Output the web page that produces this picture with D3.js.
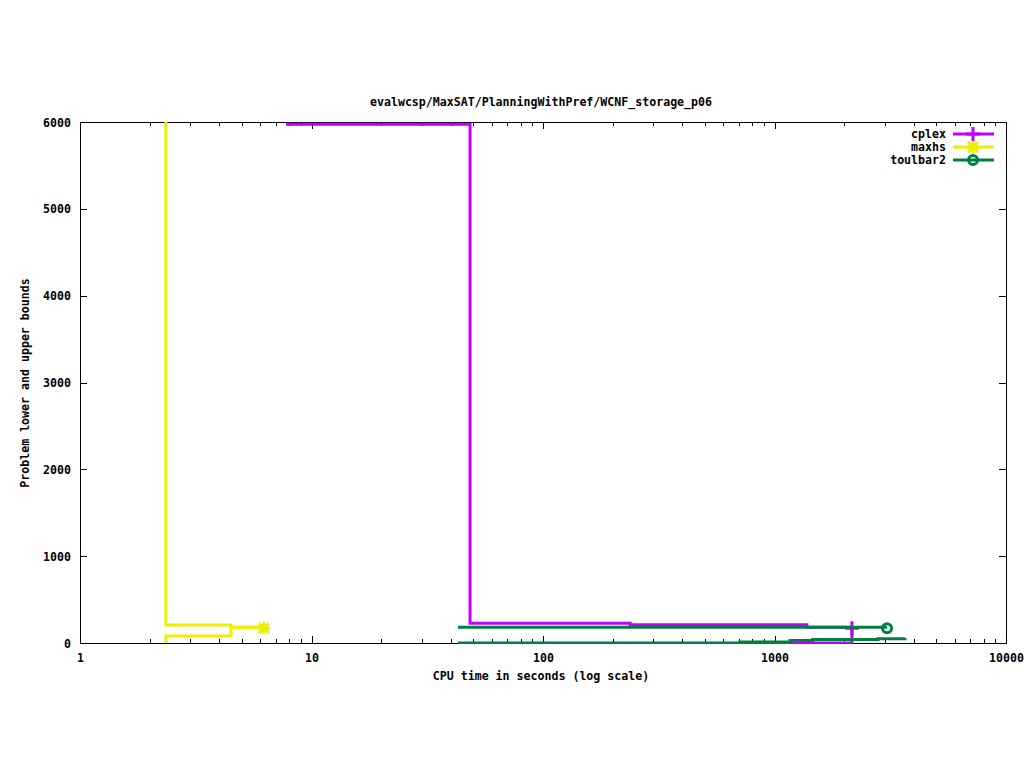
<!DOCTYPE html>
<html>
<head>
<meta charset="utf-8">
<script src="https://cdn.jsdelivr.net/npm/d3@7"></script>
<style>
  html, body { margin: 0; padding: 0; background: #fff; }
  svg text { font-family: "DejaVu Sans Mono", "Liberation Mono", monospace; font-weight: bold; font-size: 11.6px; fill: #000; }
</style>
</head>
<body>
<svg id="chart" width="1024" height="768"></svg>
<script>
// ---- data ----
const title = "evalwcsp/MaxSAT/PlanningWithPref/WCNF_storage_p06";
const xLabel = "CPU time in seconds (log scale)";
const yLabel = "Problem lower and upper bounds";
const solvers = ["cplex", "maxhs", "toulbar2"];
const colors = ["#c000ff", "#eeee00", "#008040"];
const markerShapes = ["plus", "star", "circle"];

const xTickValues = [1, 10, 100, 1000, 10000];
const xTickLabels = ["1", "10", "100", "1000", "10000"];
const yTickValues = [0, 1000, 2000, 3000, 4000, 5000, 6000];

const cplexUpperTime = [7.76, 48.4, 238, 1380, 2160];
const cplexUpperVal  = [5975, 227, 211, 181, 181];
const cplexLowerTime = [700, 2160];
const cplexLowerVal  = [0, 181];

const maxhsUpperTime = [2.35, 2.35, 4.49, 6.23];
const maxhsUpperVal  = [6000, 207, 181, 181];
const maxhsLowerTime = [2.35, 2.35, 4.49, 6.23];
const maxhsLowerVal  = [0, 81, 181, 181];

const toulbarUpperTime = [42.9, 3063];
const toulbarUpperVal  = [181, 181];
const toulbarLowerTime = [42.9, 709, 1167, 1462, 2799, 3661];
const toulbarLowerVal  = [0, 12, 28, 39, 50, 58];

const finalTime = [2160, 6.23, 3063];
const finalVal  = [181, 181, 181];

// ---- layout ----
const svg = d3.select("#chart");
const L = 80, R = 1006, T = 122, B = 643;
const x = d3.scaleLog().domain([1, 10000]).range([L, R]);
const y = d3.scaleLinear().domain([0, 6000]).range([B, T]);

const zip = (t, v) => t.map((d, i) => [d, v[i]]);
const series = [
  { up: zip(cplexUpperTime, cplexUpperVal), lo: zip(cplexLowerTime, cplexLowerVal) },
  { up: zip(maxhsUpperTime, maxhsUpperVal), lo: zip(maxhsLowerTime, maxhsLowerVal) },
  { up: zip(toulbarUpperTime, toulbarUpperVal), lo: zip(toulbarLowerTime, toulbarLowerVal) }
];

// minor ticks for log axis
const minorX = [];
for (let e = 0; e < 4; e++) for (let m = 2; m <= 9; m++) minorX.push(m * Math.pow(10, e));

// axes (inward ticks, mirrored)
const gx = svg.append("g").attr("transform", `translate(0,${B})`)
  .call(d3.axisBottom(x).tickValues(xTickValues).tickSizeInner(-7).tickSizeOuter(0)
    .tickFormat((d, i) => xTickLabels[i]));
const gxMinor = svg.append("g").attr("transform", `translate(0,${B})`)
  .call(d3.axisBottom(x).tickValues(minorX).tickSizeInner(-4).tickSizeOuter(0).tickFormat(""));
const gxTop = svg.append("g").attr("transform", `translate(0,${T})`)
  .call(d3.axisTop(x).tickValues(xTickValues).tickSizeInner(-7).tickSizeOuter(0).tickFormat(""));
const gxTopMinor = svg.append("g").attr("transform", `translate(0,${T})`)
  .call(d3.axisTop(x).tickValues(minorX).tickSizeInner(-4).tickSizeOuter(0).tickFormat(""));
const gy = svg.append("g").attr("transform", `translate(${L},0)`)
  .call(d3.axisLeft(y).tickValues(yTickValues).tickSizeInner(-7).tickSizeOuter(0).tickFormat(d3.format("d")));
const gyR = svg.append("g").attr("transform", `translate(${R},0)`)
  .call(d3.axisRight(y).tickValues(yTickValues).tickSizeInner(-7).tickSizeOuter(0).tickFormat(""));

svg.selectAll(".domain").remove();
svg.selectAll(".tick line").attr("stroke", "#000").attr("stroke-width", 1).attr("shape-rendering", "crispEdges");
svg.selectAll(".tick text").attr("font-family", null).attr("font-size", null);
gx.selectAll(".tick text").attr("y", 11).attr("dy", "0.71em");
gy.selectAll(".tick text").attr("x", -9).attr("dy", "0.35em");

// border
svg.append("rect").attr("x", L).attr("y", T).attr("width", R - L).attr("height", B - T)
  .attr("fill", "none").attr("stroke", "#000").attr("stroke-width", 1).attr("shape-rendering", "crispEdges");

// titles
svg.append("text").attr("x", 541).attr("y", 102).attr("dy", "0.35em").attr("text-anchor", "middle").text(title);
svg.append("text").attr("x", 541).attr("y", 676).attr("dy", "0.35em").attr("text-anchor", "middle").text(xLabel);
svg.append("text").attr("transform", "translate(25,383) rotate(-90)").attr("dy", "0.35em")
  .attr("text-anchor", "middle").text(yLabel);

// clip
svg.append("clipPath").attr("id", "clip").append("rect")
  .attr("x", L).attr("y", T - 1).attr("width", R - L).attr("height", B - T + 2);

const line = d3.line().x(d => x(d[0])).y(d => y(d[1])).curveStepAfter;
const stepLine = d3.line().x(d => x(d[0])).y(d => y(d[1])).curve(d3.curveStepAfter);

function marker(g, shape, cx, cy, color) {
  if (shape === "plus") {
    g.append("path").attr("d", `M${cx - 7},${cy}H${cx + 7}M${cx},${cy - 7}V${cy + 7}`)
      .attr("stroke", color).attr("stroke-width", 3).attr("fill", "none");
  } else if (shape === "star") {
    g.append("path").attr("d", `M${cx - 6},${cy}H${cx + 6}M${cx},${cy - 6}V${cy + 6}M${cx - 5},${cy - 5}L${cx + 5},${cy + 5}M${cx - 5},${cy + 5}L${cx + 5},${cy - 5}`)
      .attr("stroke", color).attr("stroke-width", 3).attr("fill", "none");
  } else {
    g.append("circle").attr("cx", cx).attr("cy", cy).attr("r", 4.5)
      .attr("stroke", color).attr("stroke-width", 3).attr("fill", "none");
  }
}

const plot = svg.append("g").attr("clip-path", "url(#clip)");
series.forEach((s, i) => {
  plot.append("path").attr("d", stepLine(s.up)).attr("fill", "none")
    .attr("stroke", colors[i]).attr("stroke-width", 3);
  plot.append("path").attr("d", stepLine(s.lo)).attr("fill", "none")
    .attr("stroke", colors[i]).attr("stroke-width", 3);
  marker(plot, markerShapes[i], x(finalTime[i]), y(finalVal[i]) + 1, colors[i]);
});

// legend
const legY = [134, 147, 160];
solvers.forEach((name, i) => {
  svg.append("text").attr("x", 946).attr("y", legY[i]).attr("dy", "0.35em")
    .attr("text-anchor", "end").text(name);
  svg.append("line").attr("x1", 953).attr("x2", 994).attr("y1", legY[i]).attr("y2", legY[i])
    .attr("stroke", colors[i]).attr("stroke-width", 3);
  marker(svg, markerShapes[i], 973, legY[i], colors[i]);
});
</script>
</body>
</html>
